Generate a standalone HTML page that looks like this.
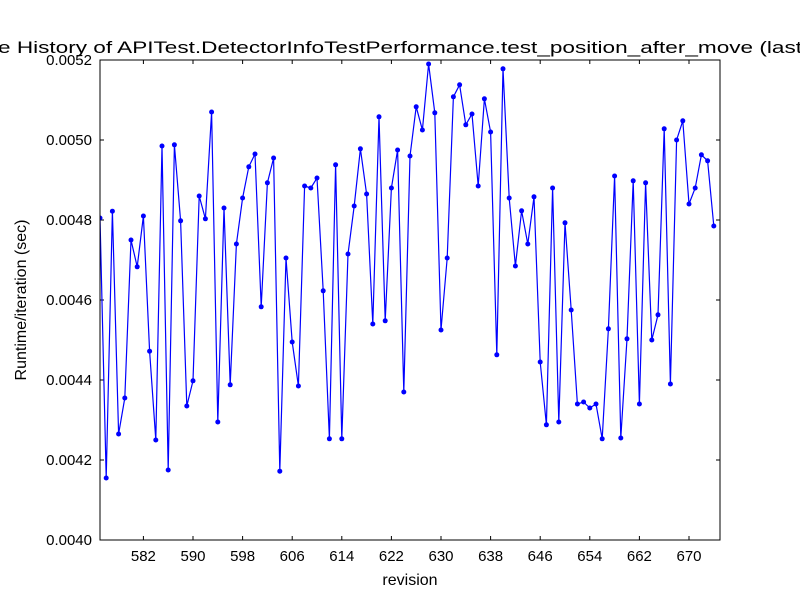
<!DOCTYPE html>
<html><head><meta charset="utf-8"><style>body{margin:0;background:#fff}svg{display:block}text{font-family:"Liberation Sans",sans-serif}</style></head>
<body>
<svg id="chart" width="800" height="600" xmlns="http://www.w3.org/2000/svg">
<rect width="800" height="600" fill="#fff"/>
<text x="-2" y="53" font-size="17" textLength="804" lengthAdjust="spacingAndGlyphs">e History of APITest.DetectorInfoTestPerformance.test_position_after_move (last</text>
<g id="plot"></g>
<text x="410" y="585" font-size="16" text-anchor="middle">revision</text>
<text transform="translate(26,300) rotate(-90)" font-size="16" text-anchor="middle">Runtime/iteration (sec)</text>
</svg>
<script>
const startRevision = 575;
const runtimes = [0.004805,0.004155,0.004822,0.004265,0.004355,0.00475,0.004683,0.00481,0.004472,0.00425,
0.004985,0.004175,0.004988,0.004798,0.004335,0.004398,0.00486,0.004803,0.00507,0.004295,
0.00483,0.004388,0.00474,0.004855,0.004933,0.004965,0.004583,0.004893,0.004955,0.004172,
0.004705,0.004495,0.004385,0.004885,0.00488,0.004905,0.004623,0.004253,0.004938,0.004253,
0.004715,0.004835,0.004978,0.004865,0.00454,0.005058,0.004548,0.00488,0.004975,0.00437,
0.00496,0.005083,0.005025,0.00519,0.005068,0.004525,0.004705,0.005108,0.005138,0.005038,
0.005065,0.004885,0.005103,0.00502,0.004463,0.005178,0.004855,0.004685,0.004823,0.00474,
0.004858,0.004445,0.004288,0.00488,0.004295,0.004793,0.004575,0.00434,0.004345,0.00433,
0.00434,0.004253,0.004528,0.00491,0.004255,0.004503,0.004898,0.00434,0.004893,0.0045,
0.004563,0.005028,0.00439,0.005,0.005048,0.00484,0.00488,0.004963,0.004948,0.004785];
const xTicks = [582,590,598,606,614,622,630,638,646,654,662,670];
const yTicks = [0.0040,0.0042,0.0044,0.0046,0.0048,0.0050,0.0052];
const yTickLabels = ["0.0040","0.0042","0.0044","0.0046","0.0048","0.0050","0.0052"];

const L=100,R=720,T=60,B=540, xMin=575,xMax=675, yMin=0.004,yMax=0.0052;
const xs=v=>L+(v-xMin)/(xMax-xMin)*(R-L);
const ys=v=>B-(v-yMin)/(yMax-yMin)*(B-T);
const NS="http://www.w3.org/2000/svg";
const g=document.getElementById('plot');
function mk(tag,attrs){const e=document.createElementNS(NS,tag);for(const k in attrs)e.setAttribute(k,attrs[k]);g.appendChild(e);return e;}
xTicks.forEach(t=>{const x=xs(t);
 let a=mk('line',{x1:x,x2:x,y1:B,y2:B-4,stroke:'#000'});
 
 
 let b=mk('line',{x1:x,x2:x,y1:T,y2:T+4,stroke:'#000'});
 
 
 let l=mk('text',{x:x,y:B+21,'font-size':15,'text-anchor':'middle'});l.textContent=t;
 
 
});
yTicks.forEach((t,i)=>{const y=ys(t);
 let a=mk('line',{x1:L,x2:L+4,y1:y,y2:y,stroke:'#000'});
 
 
 let b=mk('line',{x1:R,x2:R-4,y1:y,y2:y,stroke:'#000'});
 
 
 let l=mk('text',{x:L-8,y:y+5,'font-size':15,'text-anchor':'end'});l.textContent=yTickLabels[i];
 
 
});
const pts=runtimes.map((v,i)=>[xs(startRevision+i),ys(v)]);
const cp=mk('clipPath',{id:'clip'});const cr=document.createElementNS(NS,'rect');
cr.setAttribute('x',L);cr.setAttribute('y',T);cr.setAttribute('width',R-L);cr.setAttribute('height',B-T);cp.appendChild(cr);
const line=mk('polyline',{points:pts.map(p=>p.join(',')).join(' '),fill:'none',stroke:'#0000ff','stroke-width':1.2,'clip-path':'url(#clip)'});


pts.forEach(p=>{const c=mk('circle',{cx:p[0],cy:p[1],r:2.5,fill:'#0000ff','clip-path':'url(#clip)'});
 
 
});
const fr=mk('rect',{x:L,y:T,width:R-L,height:B-T,fill:'none',stroke:'#000','stroke-width':1});


</script>
</body></html>
